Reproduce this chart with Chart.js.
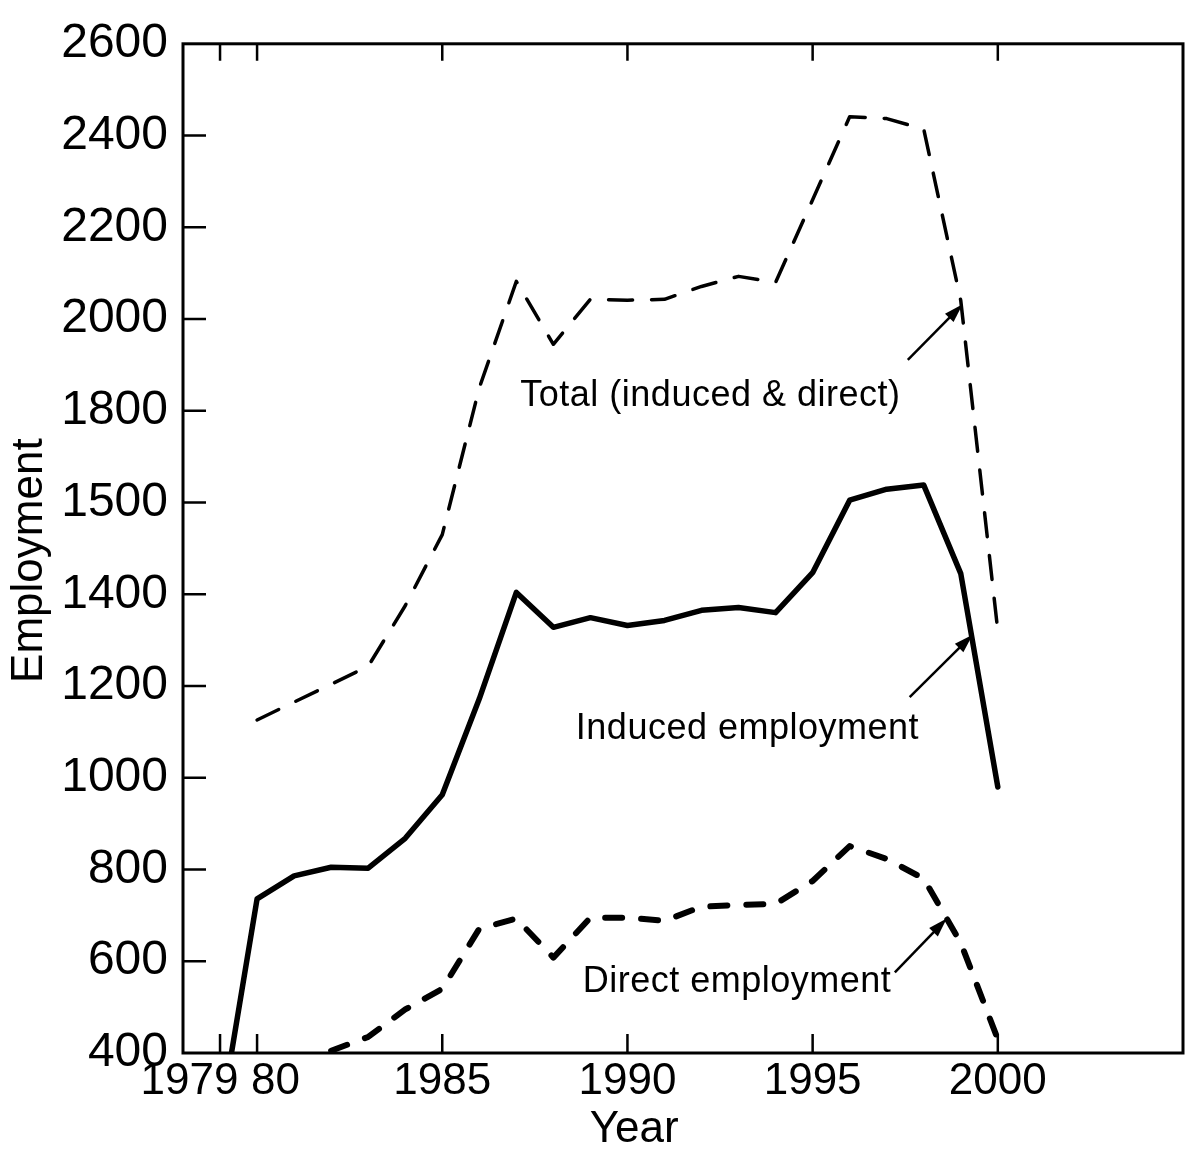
<!DOCTYPE html>
<html>
<head>
<meta charset="utf-8">
<script src="https://cdn.jsdelivr.net/npm/chart.js@4/dist/chart.umd.min.js"></script>
<style>
  html, body { margin: 0; padding: 0; background: #ffffff; }
  #wrap { width: 1186px; height: 1150px; position: relative; }
</style>
</head>
<body>
<div id="wrap"><canvas id="chart" width="1186" height="1150"></canvas></div>
<script>
// ---------- data ----------
const years = [1979, 1980, 1981, 1982, 1983, 1984, 1985, 1986, 1987, 1988, 1989,
               1990, 1991, 1992, 1993, 1994, 1995, 1996, 1997, 1998, 1999, 2000];
const totalEmployment   = [null, 1126, 1165, 1204, 1243, 1375, 1530, 1850, 2082, 1945, 2043,
                           2041, 2043, 2071, 2093, 2080, 2260, 2441, 2437, 2414, 2040, 1320];
const inducedEmployment = [250, 736, 786, 805, 803, 868, 963, 1172, 1404, 1328, 1349,
                           1332, 1343, 1365, 1371, 1360, 1447, 1605, 1629, 1638, 1445, 980];
const directEmployment  = [null, null, null, 405, 435, 495, 540, 671, 693, 608, 695,
                           695, 688, 719, 723, 725, 775, 851, 823, 780, 640, 430];

const xTickValues = [1979, 1980, 1985, 1990, 1995, 2000];
const xTickLabels = ['1979', '80', '1985', '1990', '1995', '2000'];
const yTickValues = [400, 600, 800, 1000, 1200, 1400, 1600, 1800, 2000, 2200, 2400, 2600];
const yTickLabels = ['400', '600', '800', '1000', '1200', '1400', '1500', '1800', '2000', '2200', '2400', '2600'];

const seriesNames = ['Total (induced & direct)', 'Induced employment', 'Direct employment'];

// ---------- annotation placement (data units) ----------
const notes = [
  { text: seriesNames[0], at: [1992.24, 1811], from: [1997.57, 1911], to: [1999.05, 2032] },
  { text: seriesNames[1], at: [1993.24, 1085], from: [1997.62, 1176], to: [1999.32, 1312] },
  { text: seriesNames[2], at: [1992.96, 534],  from: [1997.22, 576],  to: [1998.62, 693] }
];

// label shift for the crowded first two year labels, expressed in spaces
const xLabelPad = { 1979: { trail: 5 }, 1980: { lead: 3 } };

const FONT = "'Liberation Sans', Arial, sans-serif";
const INK = '#000000';

const pts = arr => years.map((yr, i) => ({ x: yr, y: arr[i] }));

const frameAndNotes = {
  id: 'frameAndNotes',
  afterDatasetsDraw(chart) {
    const { ctx, chartArea: a, scales: { x, y } } = chart;
    ctx.save();
    ctx.strokeStyle = INK;
    ctx.fillStyle = INK;
    // frame
    ctx.lineWidth = 3;
    ctx.lineJoin = 'miter';
    ctx.strokeRect(a.left, a.top, a.right - a.left, a.bottom - a.top);
    // inward tick marks
    ctx.lineWidth = 2.5;
    ctx.beginPath();
    yTickValues.forEach(v => {
      if (v > y.min && v < y.max) {
        const py = y.getPixelForValue(v);
        ctx.moveTo(a.left, py); ctx.lineTo(a.left + 23, py);
      }
    });
    xTickValues.forEach(v => {
      const px = x.getPixelForValue(v);
      ctx.moveTo(px, a.bottom); ctx.lineTo(px, a.bottom - 19);
      ctx.moveTo(px, a.top); ctx.lineTo(px, a.top + 17);
    });
    ctx.stroke();
    // annotations
    ctx.font = '36px ' + FONT;
    if ('letterSpacing' in ctx) ctx.letterSpacing = '0.5px';
    ctx.textAlign = 'center';
    ctx.textBaseline = 'alphabetic';
    notes.forEach(n => {
      ctx.fillText(n.text, x.getPixelForValue(n.at[0]), y.getPixelForValue(n.at[1]));
      const x1 = x.getPixelForValue(n.from[0]), y1 = y.getPixelForValue(n.from[1]);
      const x2 = x.getPixelForValue(n.to[0]),   y2 = y.getPixelForValue(n.to[1]);
      const ang = Math.atan2(y2 - y1, x2 - x1);
      const hl = 19, hw = 6;
      ctx.lineWidth = 2.5;
      ctx.beginPath();
      ctx.moveTo(x1, y1);
      ctx.lineTo(x2 - Math.cos(ang) * hl * 0.8, y2 - Math.sin(ang) * hl * 0.8);
      ctx.stroke();
      ctx.beginPath();
      ctx.moveTo(x2, y2);
      ctx.lineTo(x2 - Math.cos(ang) * hl - Math.sin(ang) * hw, y2 - Math.sin(ang) * hl + Math.cos(ang) * hw);
      ctx.lineTo(x2 - Math.cos(ang) * hl + Math.sin(ang) * hw, y2 - Math.sin(ang) * hl - Math.cos(ang) * hw);
      ctx.closePath();
      ctx.fill();
    });
    ctx.restore();
  }
};

new Chart(document.getElementById('chart'), {
  type: 'line',
  data: {
    datasets: [
      {
        label: seriesNames[0],
        data: pts(totalEmployment),
        borderColor: INK, borderWidth: 3.5,
        borderDash: [24, 19], borderCapStyle: 'round', borderJoinStyle: 'round',
        pointRadius: 0, tension: 0, fill: false
      },
      {
        label: seriesNames[1],
        data: pts(inducedEmployment),
        borderColor: INK, borderWidth: 5.5,
        borderCapStyle: 'round', borderJoinStyle: 'round',
        pointRadius: 0, tension: 0, fill: false
      },
      {
        label: seriesNames[2],
        data: pts(directEmployment),
        borderColor: INK, borderWidth: 6,
        borderDash: [17, 19], borderCapStyle: 'round', borderJoinStyle: 'round',
        pointRadius: 0, tension: 0, fill: false
      }
    ]
  },
  options: {
    responsive: false,
    animation: false,
    events: [],
    layout: { padding: { top: 38, right: 3, left: 0, bottom: 0 } },
    plugins: { legend: { display: false }, tooltip: { enabled: false } },
    scales: {
      x: {
        type: 'linear', min: 1978, max: 2005,
        grid: { display: false, drawTicks: false },
        border: { display: false },
        afterBuildTicks: s => { s.ticks = xTickValues.map(v => ({ value: v })); },
        afterFit: s => { s.height = 97; },
        ticks: {
          autoSkip: false, maxRotation: 0, minRotation: 0, padding: 2,
          color: INK, font: { family: FONT, size: 44 },
          callback: v => {
            const i = xTickValues.indexOf(v);
            if (i < 0) return '';
            const p = xLabelPad[v] || {};
            return ' '.repeat(p.lead || 0) + xTickLabels[i] + ' '.repeat(p.trail || 0);
          }
        },
        title: {
          display: true, text: 'Year' + ' '.repeat(8), color: INK,
          font: { family: FONT, size: 44, lineHeight: 0.9 },
          padding: { top: 0, bottom: 0 }
        }
      },
      y: {
        type: 'linear', min: 400, max: 2600,
        grid: { display: false, drawTicks: false },
        border: { display: false },
        afterBuildTicks: s => { s.ticks = yTickValues.map(v => ({ value: v })); },
        afterFit: s => { s.width = 183; },
        ticks: {
          autoSkip: false, padding: 15,
          color: INK, font: { family: FONT, size: 48 },
          callback: v => {
            const i = yTickValues.indexOf(v);
            return i < 0 ? '' : yTickLabels[i];
          }
        },
        title: {
          display: true, text: 'Employment' + '  ', color: INK,
          font: { family: FONT, size: 44 },
          padding: { top: 3, bottom: 0 }
        }
      }
    }
  },
  plugins: [frameAndNotes]
});
</script>
</body>
</html>
